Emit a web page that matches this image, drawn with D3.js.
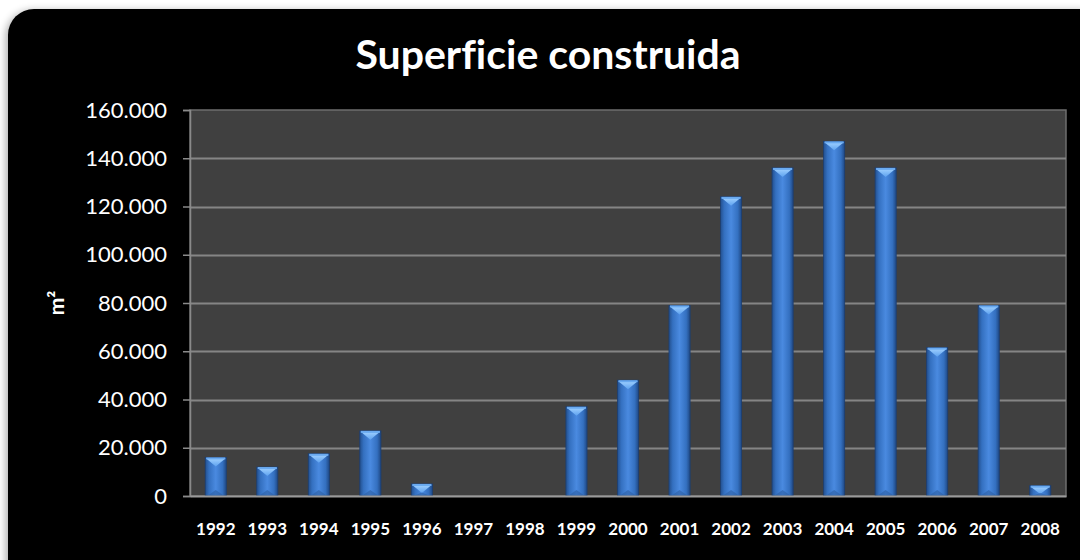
<!DOCTYPE html>
<html>
<head>
<meta charset="utf-8">
<script src="https://cdn.jsdelivr.net/npm/d3@7"></script>
<style>
  html, body { margin: 0; padding: 0; background: #ffffff; }
  svg { display: block; }
  text { font-variant-ligatures: none; }
</style>
</head>
<body>
<svg id="chart" width="1080" height="560"></svg>
<script>
// Built surface per year, in m²
const years = ["1992","1993","1994","1995","1996","1997","1998","1999","2000",
               "2001","2002","2003","2004","2005","2006","2007","2008"];
const surface = [16000, 12000, 17500, 27000, 5000, 0, 0, 37000, 48000,
                 79000, 124000, 136000, 147000, 136000, 61500, 79000, 4300];
const yTicks = [0, 20000, 40000, 60000, 80000, 100000, 120000, 140000, 160000];
const chartTitle = "Superficie construida";
const yAxisTitle = "m²";

const svg = d3.select("#chart");
const plot = { left: 190, right: 1066, top: 110, bottom: 496 };

// Spanish-style number grouping: 160.000
const es = d3.formatLocale({ decimal: ",", thousands: ".", grouping: [3], currency: ["", " €"] });
const fmt = es.format(",d");

const defs = svg.append("defs");

// soft shadow round the dark card
const sh = defs.append("filter").attr("id", "cardShadow")
  .attr("x", "-5%").attr("y", "-5%").attr("width", "110%").attr("height", "110%");
sh.append("feGaussianBlur").attr("in", "SourceAlpha").attr("stdDeviation", 4).attr("result", "b");
sh.append("feOffset").attr("in", "b").attr("dx", -2).attr("dy", 2).attr("result", "o");
sh.append("feComponentTransfer").attr("in", "o").attr("result", "s")
  .append("feFuncA").attr("type", "linear").attr("slope", 0.35);
const m = sh.append("feMerge");
m.append("feMergeNode").attr("in", "s");
m.append("feMergeNode").attr("in", "SourceGraphic");

// bar body: darker edges, lighter middle
const gBody = defs.append("linearGradient").attr("id", "barBody")
  .attr("x1", "0%").attr("x2", "100%").attr("y1", "0%").attr("y2", "0%");
[["0%", "#23508f"], ["18%", "#3470c0"], ["50%", "#4a8ae0"], ["82%", "#3470c0"], ["100%", "#1f4884"]]
  .forEach(([o, c]) => gBody.append("stop").attr("offset", o).attr("stop-color", c));

// bevelled cap on top of each bar
const gCap = defs.append("linearGradient").attr("id", "barCap")
  .attr("x1", "0%").attr("x2", "0%").attr("y1", "0%").attr("y2", "100%");
[["0%", "#9fd0ff"], ["100%", "#5ea2ef"]]
  .forEach(([o, c]) => gCap.append("stop").attr("offset", o).attr("stop-color", c));

// card background
svg.append("rect")
  .attr("x", 8).attr("y", 9).attr("width", 1100).attr("height", 600)
  .attr("rx", 26).attr("ry", 26)
  .attr("fill", "#000000")
  .attr("filter", "url(#cardShadow)");

// plot area
svg.append("rect")
  .attr("x", plot.left).attr("y", plot.top)
  .attr("width", plot.right - plot.left).attr("height", plot.bottom - plot.top)
  .attr("fill", "#404040")
  .attr("stroke", "#6e6e6e").attr("stroke-width", 1.5);

const x = d3.scaleBand().domain(years)
  .range([plot.left, plot.right])
  .paddingInner(0.59).paddingOuter(0.295);
const y = d3.scaleLinear().domain([0, 160000]).range([plot.bottom, plot.top]);

// gridlines
svg.append("g").selectAll("line")
  .data(yTicks.filter(d => d > 0 && d < 160000))
  .join("line")
  .attr("x1", plot.left).attr("x2", plot.right)
  .attr("y1", d => Math.round(y(d)) + 0.5).attr("y2", d => Math.round(y(d)) + 0.5)
  .attr("stroke", "#858585").attr("stroke-width", 2);

// y axis
const yAxis = svg.append("g")
  .attr("transform", `translate(${plot.left},0)`)
  .call(d3.axisLeft(y).tickValues(yTicks).tickFormat(fmt).tickSize(7).tickPadding(16));
yAxis.select(".domain").attr("stroke", "#8a8a8a").attr("stroke-width", 1.5);
yAxis.selectAll(".tick line").attr("stroke", "#8a8a8a").attr("stroke-width", 1.5);
yAxis.selectAll(".tick text")
  .attr("fill", "#ffffff")
  .attr("font-family", "Lato, 'Open Sans', sans-serif")
  .attr("font-size", 22);

// bars
const bars = svg.append("g").selectAll("g.bar")
  .data(years.map((yr, i) => ({ yr, v: surface[i] })).filter(d => d.v > 0))
  .join("g").attr("class", "bar");

bars.append("rect")
  .attr("x", d => x(d.yr))
  .attr("y", d => y(d.v))
  .attr("width", x.bandwidth())
  .attr("height", d => y(0) - y(d.v))
  .attr("fill", "url(#barBody)")
  .attr("stroke", "#1c3f73").attr("stroke-width", 0.8);

// top bevel: light downward triangle spanning the bar
bars.append("path")
  .attr("d", d => {
    const x0 = x(d.yr), w = x.bandwidth(), t = y(d.v);
    const hCap = Math.min(9, (y(0) - t) * 0.8);
    return `M${x0 + 1},${t + 1} L${x0 + w - 1},${t + 1} L${x0 + w / 2},${t + hCap} Z`;
  })
  .attr("fill", "url(#barCap)");

// top rim
bars.append("rect")
  .attr("x", d => x(d.yr) + 1)
  .attr("y", d => y(d.v))
  .attr("width", x.bandwidth() - 2)
  .attr("height", 2)
  .attr("fill", "#6aaaf0");

// faint bottom bevel
bars.append("path")
  .attr("d", d => {
    const x0 = x(d.yr), w = x.bandwidth(), b = y(0);
    const hCap = Math.min(6, (b - y(d.v)) * 0.3);
    return `M${x0 + 2},${b} L${x0 + w - 2},${b} L${x0 + w / 2},${b - hCap} Z`;
  })
  .attr("fill", "#2d5fa3").attr("opacity", 0.6);

// x axis
const xAxis = svg.append("g")
  .attr("transform", `translate(0,${plot.bottom})`)
  .call(d3.axisBottom(x).tickSize(0).tickPadding(27));
xAxis.select(".domain").attr("stroke", "#9a9a9a").attr("stroke-width", 2);
xAxis.selectAll(".tick text")
  .attr("fill", "#ffffff")
  .attr("font-family", "Lato, 'Open Sans', sans-serif")
  .attr("font-weight", "bold")
  .attr("font-size", 17);

// title
svg.append("text")
  .attr("x", 548).attr("y", 69)
  .attr("text-anchor", "middle")
  .attr("fill", "#ffffff")
  .attr("font-family", "Lato, 'Open Sans', sans-serif")
  .attr("font-weight", "bold")
  .attr("font-size", 41)
  .text(chartTitle);

// y axis title
svg.append("text")
  .attr("transform", "translate(64,303) rotate(-90)")
  .attr("text-anchor", "middle")
  .attr("fill", "#ffffff")
  .attr("font-family", "Lato, 'Open Sans', sans-serif")
  .attr("font-weight", "bold")
  .attr("font-size", 21)
  .text(yAxisTitle);
</script>
</body>
</html>
